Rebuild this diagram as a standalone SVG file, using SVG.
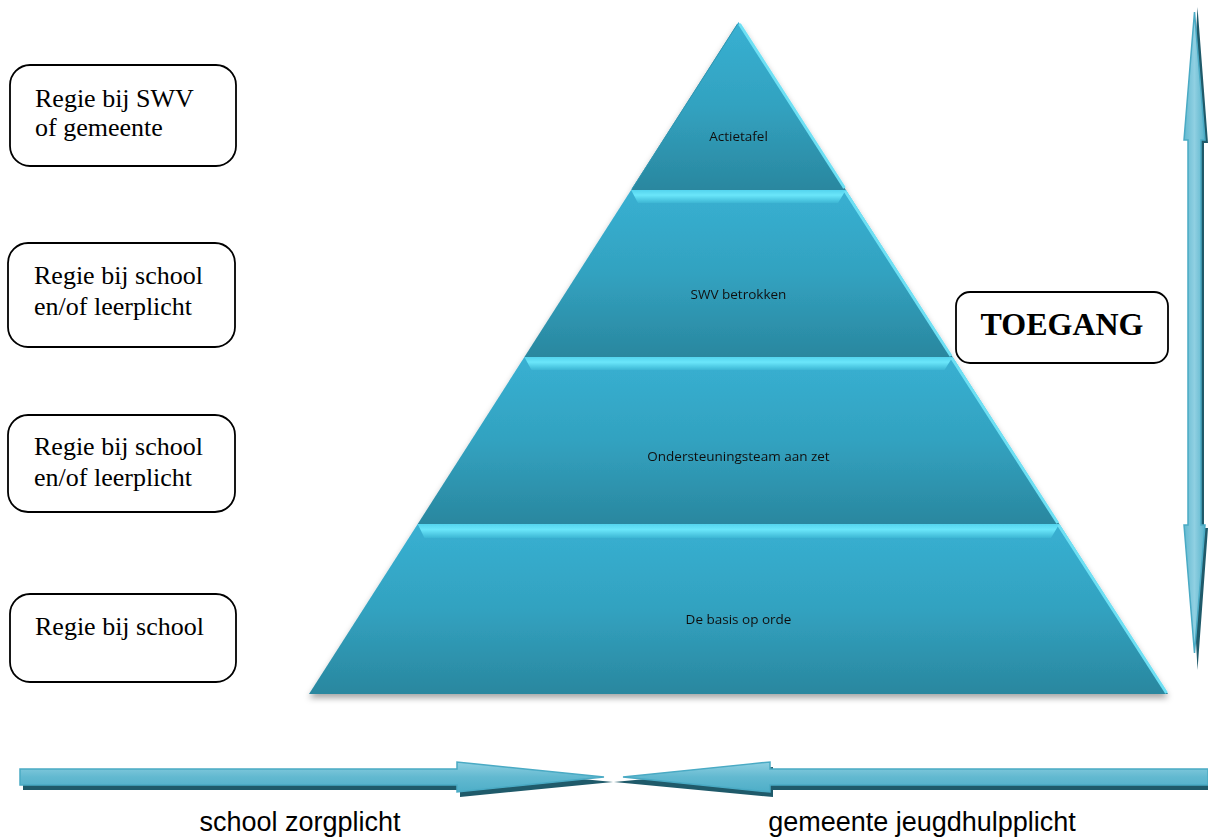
<svg xmlns="http://www.w3.org/2000/svg" width="1208" height="839" viewBox="0 0 1208 839">
<style>
.box{fill:#fff;stroke:#000;stroke-width:1.8}
.bt{font-family:"Liberation Serif","Times New Roman",serif;font-size:26px;fill:#000}
.pt{font-family:"Open Sans","Liberation Sans",sans-serif;font-size:13.5px;fill:#111;text-anchor:middle}
.lt{font-family:"Liberation Sans",Arial,sans-serif;font-size:27px;fill:#000;text-anchor:middle}
.band{fill:url(#bandG)}
.strip{fill:url(#stripG)}
.edge{stroke:#6ee0f4;stroke-width:3;fill:none}
.ledge{stroke:#2e95b0;stroke-width:1;fill:none}
.shadow{fill:#1f5a6a}
.arrH{fill:url(#arrHG);stroke:#4aaac4;stroke-width:1.5}
.arrV{fill:url(#arrVG);stroke:#4aaac4;stroke-width:1.5}
</style>
<defs>
<linearGradient id="bandG" x1="0" y1="0" x2="0" y2="1">
<stop offset="0" stop-color="#38b0d2"/>
<stop offset="0.5" stop-color="#32a2c0"/>
<stop offset="1" stop-color="#2a879f"/>
</linearGradient>
<linearGradient id="stripG" x1="0" y1="0" x2="0" y2="1">
<stop offset="0" stop-color="#54d4ee"/>
<stop offset="0.4" stop-color="#6ae6fa"/>
<stop offset="1" stop-color="#3cb6d4"/>
</linearGradient>
<linearGradient id="arrHG" x1="0" y1="0" x2="0" y2="1">
<stop offset="0" stop-color="#8fd0e2"/>
<stop offset="0.5" stop-color="#62b9d0"/>
<stop offset="1" stop-color="#4eaec8"/>
</linearGradient>
<linearGradient id="arrVG" x1="0" y1="0" x2="1" y2="0">
<stop offset="0" stop-color="#62b9d0"/>
<stop offset="0.5" stop-color="#90d0e2"/>
<stop offset="1" stop-color="#56b2ca"/>
</linearGradient>
<filter id="ds" x="-10%" y="-10%" width="120%" height="125%">
<feDropShadow dx="0" dy="4" stdDeviation="3" flood-color="#000" flood-opacity="0.35"/>
</filter>
</defs>

<g id="pyramid" filter="url(#ds)">
<g id="level1">
<polygon class="band" points="738.5,22 845.9,190 631.1,190"/>
<line class="edge" x1="739.5" y1="24" x2="844.5" y2="188"/>
<line class="ledge" x1="737.5" y1="24" x2="632" y2="189"/>
<text class="pt" x="738.5" y="141">Actietafel</text>
</g>
<g id="level2">
<polygon class="band" points="631.1,190 845.9,190 952.6,357 524.4,357"/>
<polygon class="strip" points="631.1,190 845.9,190 838,203 638,203"/>
<line class="edge" x1="845" y1="191" x2="951" y2="356"/>
<text class="pt" x="738.5" y="299">SWV betrokken</text>
</g>
<g id="level3">
<polygon class="band" points="524.4,357 952.6,357 1059.3,524 417.7,524"/>
<polygon class="strip" points="524.4,357 952.6,357 944.5,370 531.5,370"/>
<line class="edge" x1="951.7" y1="358" x2="1057.7" y2="523"/>
<text class="pt" x="738.5" y="461">Ondersteuningsteam aan zet</text>
</g>
<g id="level4">
<polygon class="band" points="417.7,524 1059.3,524 1168,694 309,694"/>
<polygon class="strip" points="417.7,524 1059.3,524 1051,538 424.5,538"/>
<line class="edge" x1="1058.5" y1="525" x2="1166.5" y2="693"/>
<text class="pt" x="738.5" y="624">De basis op orde</text>
</g>
</g>

<g id="box1">
<rect class="box" x="10" y="65" width="226" height="101" rx="20"/>
<text class="bt" x="35" y="107">Regie bij SWV</text>
<text class="bt" x="35" y="136">of gemeente</text>
</g>
<g id="box2">
<rect class="box" x="8" y="243" width="227" height="104" rx="20"/>
<text class="bt" x="34" y="284">Regie bij school</text>
<text class="bt" x="34" y="315">en/of leerplicht</text>
</g>
<g id="box3">
<rect class="box" x="8" y="415" width="227" height="97" rx="20"/>
<text class="bt" x="34" y="455">Regie bij school</text>
<text class="bt" x="34" y="486">en/of leerplicht</text>
</g>
<g id="box4">
<rect class="box" x="10" y="594" width="226" height="88" rx="20"/>
<text class="bt" x="35" y="635">Regie bij school</text>
</g>
<g id="toegang">
<rect class="box" x="956" y="292" width="212" height="71" rx="14"/>
<text x="1062" y="335" text-anchor="middle" style="font-family:'Liberation Serif','Times New Roman',serif;font-size:32px;font-weight:bold;fill:#000">TOEGANG</text>
</g>

<g id="connectors">
<g id="vertical-arrow">
<polygon class="shadow" points="1197.5,7 1208,143 1204,143 1204,528 1208,528 1197.5,670 1190,528 1190,143"/>
<polygon class="arrV" points="1194.5,12 1205,140 1201,140 1201,525 1205,525 1194.5,653 1184,525 1188,525 1188,140 1184,140"/>
</g>
<g id="arrow-left">
<polygon class="shadow" points="23,774 460,774 460,767 613,782 460,797 460,790 23,790"/>
<polygon class="arrH" points="20,769 457,769 457,762 604,777 457,792 457,785 20,785"/>
</g>
<g id="arrow-right">
<polygon class="shadow" points="1208,774 773,774 773,767 614,782 773,797 773,790 1208,790"/>
<polygon class="arrH" points="1208,769 770,769 770,762 623,777 770,792 770,785 1208,785"/>
</g>
</g>

<text class="lt" x="300" y="831">school zorgplicht</text>
<text class="lt" x="922" y="831">gemeente jeugdhulpplicht</text>
</svg>
